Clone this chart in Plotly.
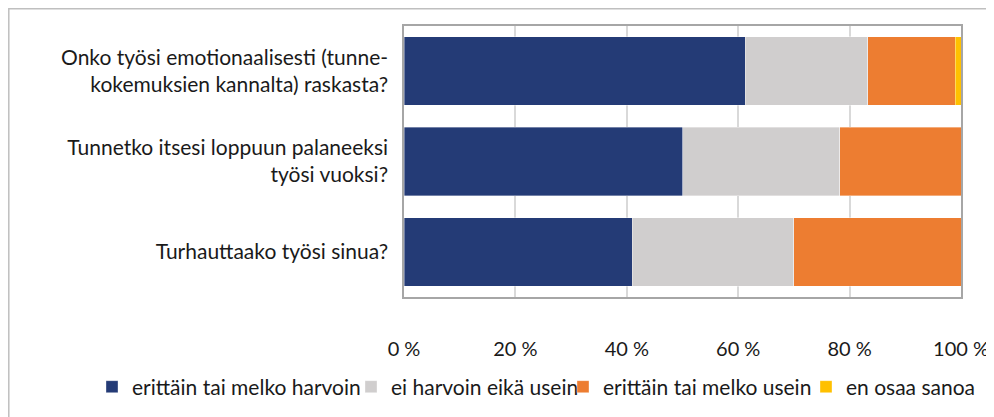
import plotly.graph_objects as go

questions = [
    "Onko työsi emotionaalisesti (tunne-<br>kokemuksien kannalta) raskasta?",
    "Tunnetko itsesi loppuun palaneeksi<br>työsi vuoksi?",
    "Turhauttaako työsi sinua?",
]
series_names = [
    "erittäin tai melko harvoin",
    "ei harvoin eikä usein",
    "erittäin tai melko usein",
    "en osaa sanoa",
]
harvoin = [61.3, 50.0, 41.0]
ei_harvoin = [22.0, 28.2, 29.0]
usein = [15.7, 21.8, 30.0]
en_osaa = [1.0, 0.0, 0.0]
x_ticks = [0, 20, 40, 60, 80, 100]
x_ticklabels = ["0 %", "20 %", "40 %", "60 %", "80 %", "100 %"]

colors = ["#243b76", "#d0cece", "#ed7d31", "#ffc000"]
font_family = "Lato, 'Open Sans', sans-serif"

# page body has an 8px margin, so the figure sits 8px right/down in the window
W, H = 994, 417
ml, mr, mt, mb = 396, 41, 18, 128
pw, ph = W - ml - mr, H - mt - mb

# one legend per series so the row doesn't wrap (left edge in px)
legend_ids = ["legend", "legend2", "legend3", "legend4"]
legend_left = [84, 343, 555, 798]

fig = go.Figure()
for name, vals, col, lg in zip(series_names, [harvoin, ei_harvoin, usein, en_osaa], colors, legend_ids):
    fig.add_trace(go.Bar(
        y=questions, x=vals, name=name, orientation="h", legend=lg,
        marker=dict(color=col, line=dict(color="rgba(255,255,255,0.6)", width=0.6)),
        hoverinfo="x+name",
    ))

# outer frame of the chart (cropped at right/bottom)
fig.add_shape(
    type="rect", xref="paper", yref="paper",
    x0=(0.8 - ml) / pw, x1=(W + 20 - ml) / pw,
    y0=(H - mb - (H + 20)) / ph, y1=(H - mb - 0.8) / ph,
    line=dict(color="#bfbfbf", width=1.5), fillcolor="rgba(0,0,0,0)", layer="below",
)

legends = {}
for lg, left in zip(legend_ids, legend_left):
    legends[lg] = dict(
        orientation="h", x=left / W, xref="container", xanchor="left",
        y=-90 / ph, yanchor="middle", bgcolor="rgba(0,0,0,0)",
        font=dict(size=21), itemwidth=30,
    )

fig.update_layout(
    barmode="stack",
    bargap=0.24,
    width=W, height=H,
    margin=dict(l=ml, r=mr, t=mt, b=mb, autoexpand=False),
    paper_bgcolor="white",
    plot_bgcolor="white",
    font=dict(family=font_family, size=21, color="#1a1a1a"),
    showlegend=True,
    **legends,
)
fig.update_xaxes(
    range=[0, 100], tickvals=x_ticks, ticktext=x_ticklabels,
    showgrid=True, gridcolor="#d9d9d9", gridwidth=1.5,
    showline=True, linecolor="#a6a6a6", linewidth=1.5, mirror=True,
    zeroline=False, ticks="", ticklabelstandoff=33, automargin=False,
    tickfont=dict(size=20),
)
fig.update_yaxes(
    autorange="reversed", automargin=False,
    showline=True, linecolor="#a6a6a6", linewidth=1.5, mirror=True,
    ticks="", ticklabelstandoff=10,
    tickfont=dict(size=21),
)

fig.write_html("out.html")
